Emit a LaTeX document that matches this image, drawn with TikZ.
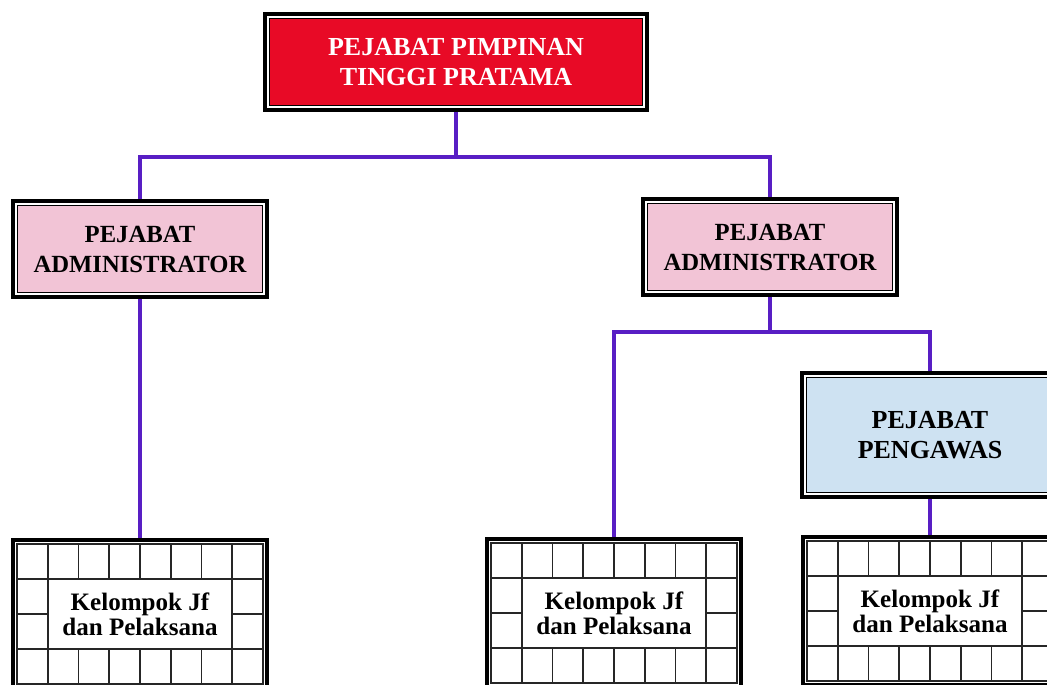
\documentclass[tikz,border=0pt]{standalone}
\usepackage{fontspec}
\setmainfont{Liberation Serif}
\usetikzlibrary{calc}
\definecolor{conncol}{RGB}{88,30,196}
\definecolor{topred}{RGB}{232,10,38}
\definecolor{admpink}{RGB}{242,196,214}
\definecolor{pengblue}{RGB}{206,226,242}
\tikzset{
  framebox/.style={rectangle, draw=black, line width=3pt, fill=white, inner sep=0pt, align=center,
    path picture={\draw[line width=1.1pt, fill=#1]
      ([shift={(3.5pt,-3.5pt)}]path picture bounding box.north west) rectangle
      ([shift={(-3.5pt,3.5pt)}]path picture bounding box.south east);}},
  headbox/.style={framebox=topred, minimum width=286.5pt, minimum height=72pt, text=white,
    font=\fontsize{19.5pt}{22.5pt}\selectfont\bfseries},
  admbox/.style={framebox=admpink, minimum width=190.5pt, minimum height=72pt,
    font=\fontsize{18.5pt}{22.5pt}\selectfont\bfseries},
  pengbox/.style={framebox=pengblue, minimum width=192pt, minimum height=93pt,
    font=\fontsize{19.5pt}{22.5pt}\selectfont\bfseries},
  cellline/.style={draw=black!85, line width=1.3pt},
  gridbox/.style={rectangle, draw=black, line width=3pt, fill=white, inner sep=0pt, align=center,
    minimum width=190.5pt, minimum height=110.5pt,
    font=\fontsize{18.8pt}{18.5pt}\selectfont\bfseries,
    path picture={
      \coordinate (pnw) at ([shift={(3pt,-3pt)}]path picture bounding box.north west);
      \coordinate (pse) at ([shift={(-3pt,3pt)}]path picture bounding box.south east);
      \draw[cellline] (pnw) rectangle (pse);
      \foreach \i in {1,...,7} {
        \draw[cellline] ($(pnw)+(\i*23.0625pt,0pt)$) -- ++(0pt,-26.125pt);
        \draw[cellline] ($(pnw|-pse)+(\i*23.0625pt,0pt)$) -- ++(0pt,26.125pt);
      }
      \draw[cellline] ($(pnw)+(0pt,-26.125pt)$) -- ++(184.5pt,0pt);
      \draw[cellline] ($(pnw|-pse)+(0pt,26.125pt)$) -- ++(184.5pt,0pt);
      \draw[cellline] ($(pnw)+(23.0625pt,-26.125pt)$) -- ++(0pt,-52.25pt);
      \draw[cellline] ($(pse|-pnw)+(-23.0625pt,-26.125pt)$) -- ++(0pt,-52.25pt);
      \draw[cellline] ($(pnw)+(0pt,-52.25pt)$) -- ++(23.0625pt,0pt);
      \draw[cellline] ($(pse|-pnw)+(0pt,-52.25pt)$) -- ++(-23.0625pt,0pt);
    }},
  conn/.style={draw=conncol, line width=3pt},
}
\begin{document}
\begin{tikzpicture}[x=0.75pt,y=-0.75pt]
\useasboundingbox (0,0) rectangle (1047,685);
\clip (0,0) rectangle (1047,685);
\fill[white] (0,0) rectangle (1047,685);

\node[headbox] (top) at (456,62) {PEJABAT PIMPINAN\\TINGGI PRATAMA};
\node[admbox] (admL) at (140,249) {PEJABAT\\ADMINISTRATOR};
\node[admbox] (admR) at (770,247) {PEJABAT\\ADMINISTRATOR};
\node[pengbox] (peng) at (930,435) {PEJABAT\\PENGAWAS};
\node[gridbox] (gL) at (140,614) {Kelompok Jf\\dan Pelaksana};
\node[gridbox] (gM) at (614,613) {Kelompok Jf\\dan Pelaksana};
\node[gridbox] (gR) at (930,611) {Kelompok Jf\\dan Pelaksana};

\coordinate (h1) at (456,157);
\coordinate (h2) at (770,332);
\draw[conn] (top.south) -- (h1);
\draw[conn] (admL.north) |- (h1);
\draw[conn] (admR.north) |- (h1);
\draw[conn] (admL.south) -- (gL.north);
\draw[conn] (admR.south) -- (h2);
\draw[conn] (gM.north) |- (h2);
\draw[conn] (peng.north) |- (h2);
\draw[conn] (peng.south) -- (gR.north);
\end{tikzpicture}
\end{document}
